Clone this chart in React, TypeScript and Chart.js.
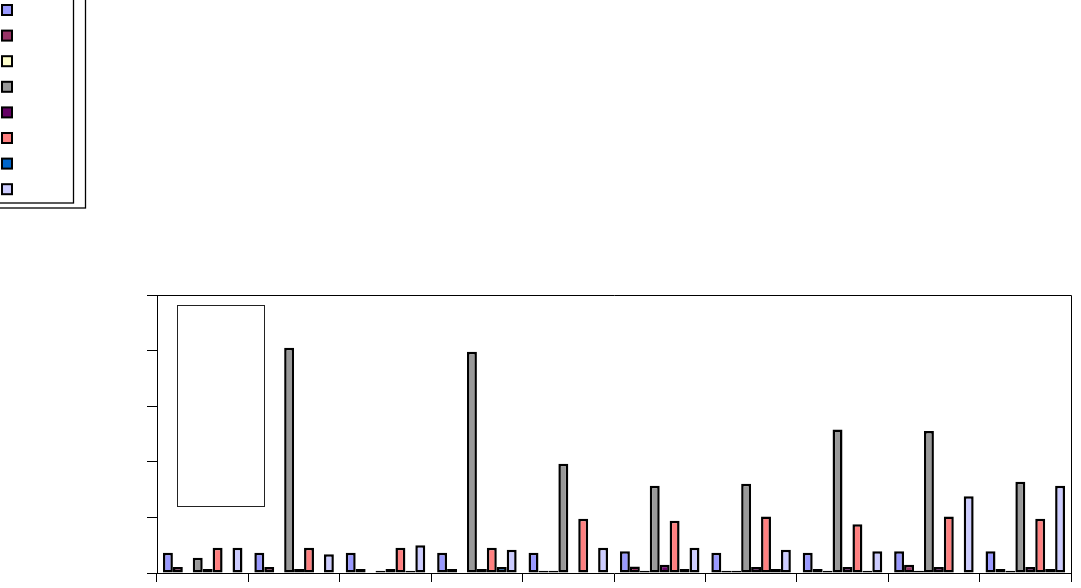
import React, { useEffect, useRef } from "react";
import { Chart, registerables } from "chart.js";

Chart.register(...registerables);

const categories = ["1", "2", "3", "4", "5", "6", "7", "8", "9", "10"];
const seriesNames = ["S1", "S2", "S3", "S4", "S5", "S6", "S7", "S8"];
const seriesColors = ["#9999FF", "#993366", "#FFFFCC", "#999999", "#660066", "#FF8080", "#0066CC", "#CCCCFF"];

const s1 = [7.3, 7.3, 7.3, 7.3, 7.3, 7.8, 7.3, 7.3, 7.8, 7.8];
const s2 = [2.2, 2.2, 1.4, 1.4, 0.8, 2.3, 0.8, 1.4, 3.0, 1.4];
const s3 = [0, 0, 0, 0, 0.8, 0.8, 0.8, 0.8, 0.8, 0.8];
const s4 = [5.5, 81.0, 0.8, 79.6, 39.3, 31.4, 32.1, 51.6, 51.1, 32.8];
const s5 = [1.4, 1.4, 1.4, 1.4, 0, 3.0, 2.2, 2.2, 2.2, 2.2];
const s6 = [9.1, 9.1, 9.1, 9.1, 19.5, 18.8, 20.3, 17.5, 20.3, 19.5];
const s7 = [0, 0, 0.8, 2.2, 0, 1.4, 1.4, 0.8, 0, 1.4];
const s8 = [9.1, 6.7, 10.0, 8.4, 9.1, 9.1, 8.4, 7.8, 27.6, 31.4];

const seriesValues = [s1, s2, s3, s4, s5, s6, s7, s8];
const yMax = 100;
const yStep = 20;

const decorPlugin = {
  id: "decor",
  afterDraw(chart: any) {
    const ctx = chart.ctx;
    const a = chart.chartArea;
    ctx.save();
    // plot frame (top/right)
    ctx.strokeStyle = "#000";
    ctx.lineWidth = 1;
    ctx.beginPath();
    ctx.moveTo(a.left, a.top + 0.5);
    ctx.lineTo(a.right + 0.5, a.top + 0.5);
    ctx.lineTo(a.right + 0.5, a.bottom);
    ctx.stroke();
    // empty inner box
    ctx.strokeStyle = "#222";
    ctx.strokeRect(a.left + 20.5, a.top + 10.5, 87, 201);
    // legend boxes
    ctx.strokeStyle = "#000";
    ctx.lineWidth = 1.3;
    ctx.strokeRect(-10, -10, 95.5, 218);
    ctx.strokeRect(-10, -10, 83.5, 213);
    chart.data.datasets.forEach((ds: any, i: number) => {
      const y = 4 + i * 25.6;
      ctx.fillStyle = "#000";
      ctx.fillRect(1, y, 12, 12);
      ctx.fillStyle = ds.backgroundColor;
      ctx.fillRect(3, y + 2, 8, 8);
    });
    ctx.restore();
  },
};

export default function App() {
  const ref = useRef<HTMLCanvasElement | null>(null);
  useEffect(() => {
    if (!ref.current) return;
    const chart = new Chart(ref.current, {
      type: "bar",
      data: {
        labels: categories,
        datasets: seriesValues.map((vals, i) => ({
          label: seriesNames[i],
          data: vals,
          backgroundColor: seriesColors[i],
          borderColor: "#000",
          borderWidth: 2.5,
          borderSkipped: false,
          categoryPercentage: 0.87,
          barPercentage: 1.0,
        })),
      },
      options: {
        animation: false,
        responsive: false,
        devicePixelRatio: 1,
        layout: { padding: { left: 147, top: 295, right: 10, bottom: 6 } },
        plugins: { legend: { display: false }, tooltip: { enabled: false } },
        scales: {
          x: {
            offset: true,
            grid: { offset: true, drawOnChartArea: false, drawTicks: true, tickLength: 9, color: "#000" },
            border: { color: "#000", width: 1 },
            ticks: { display: false },
            afterFit: (s: any) => { s.height = 9; },
          },
          y: {
            min: 0,
            max: yMax,
            ticks: { display: false, stepSize: yStep },
            grid: { drawOnChartArea: false, drawTicks: true, tickLength: 10, color: "#000" },
            border: { color: "#000", width: 1 },
            afterFit: (s: any) => { s.width = 10; },
          },
        },
      },
      plugins: [decorPlugin],
    });
    return () => chart.destroy();
  }, []);
  return (
    <div style={{ position: "fixed", left: 0, top: 0, width: 1081, height: 588, background: "#fff" }}>
      <canvas ref={ref} width={1081} height={588} style={{ width: 1081, height: 588, display: "block" }} />
    </div>
  );
}
